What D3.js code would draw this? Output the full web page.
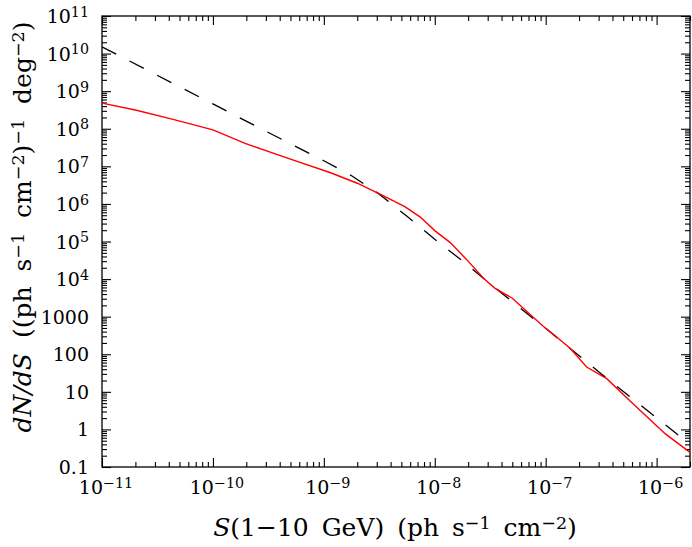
<!DOCTYPE html>
<html>
<head>
<meta charset="utf-8">
<script src="https://cdn.jsdelivr.net/npm/d3@7"></script>
<style>
  body { margin: 0; background: #fff; }
  svg { display: block; }
  text { font-family: "DejaVu Serif", serif; fill: #000; }
</style>
</head>
<body>
<svg width="692" height="547"></svg>
<script>
// dashed model curve, S in ph s^-1 cm^-2, dN/dS per (ph s^-1 cm^-2) deg^-2
const dashS = [1e-11, 1e-10, 3.16e-10, 1e-9, 1.78e-9, 3.16e-9, 5.62e-9, 1e-8, 1.78e-8, 3.16e-8, 1e-7, 3.16e-7, 1e-6, 2e-6];
const dashN = [1.51e10, 4.57e8, 7.94e7, 1.41e7, 5.62e6, 1.82e6, 4.68e5, 1.15e5, 3.02e4, 7.41e3, 490, 30.2, 2.04, 0.40];

// red curve
const redS = [1e-11, 2.0e-11, 4.37e-11, 1e-10, 1.95e-10, 5.0e-10, 1.15e-9, 2.0e-9, 3.31e-9, 5.37e-9,
  7.41e-9, 1e-8, 1.38e-8, 1.95e-8, 2.75e-8, 3.47e-8, 5.01e-8, 6.76e-8, 9.55e-8, 1.26e-7,
  1.66e-7, 2.34e-7, 3.55e-7, 6.03e-7, 1.20e-6, 2e-6];
const redN = [4.79e8, 3.16e8, 1.78e8, 9.33e7, 4.07e7, 1.55e7, 6.76e6, 3.55e6, 1.74e6, 8.51e5,
  4.47e5, 1.95e5, 9.33e4, 3.24e4, 1.05e4, 5.75e3, 3.09e3, 1.38e3, 550, 282,
  145, 45.7, 22.4, 5.01, 0.76, 0.245];

const xTickLabels = ["10^−11", "10^−10", "10^−9", "10^−8", "10^−7", "10^−6"];
const yTickLabels = ["0.1", "1", "10", "100", "1000", "10^4", "10^5", "10^6", "10^7", "10^8", "10^9", "10^10", "10^11"];

const svg = d3.select("svg");
const m = {left: 102, right: 690, top: 16, bottom: 467};

const x = d3.scaleLog().domain([1e-11, 2e-6]).range([m.left, m.right]);
const y = d3.scaleLog().domain([0.1, 1e11]).range([m.bottom, m.top]);

const xMajor = d3.range(-11, -5).map(k => Math.pow(10, k));
const yMajor = d3.range(-1, 12).map(k => Math.pow(10, k));
const minorOf = (majors, dom) => {
  const out = [];
  majors.forEach(v0 => { for (let i = 2; i <= 9; i++) { const v = v0 * i; if (v <= dom[1]) out.push(v); } });
  return out;
};
const xMinor = minorOf(xMajor, x.domain());
const yMinor = minorOf(yMajor, y.domain()).filter(v => v < 1e11);

const tickGroup = (axis, tx, ty) => {
  const g = svg.append("g").attr("transform", `translate(${tx},${ty})`).call(axis);
  g.select(".domain").remove();
  g.selectAll("line").attr("stroke", "#000").attr("stroke-width", 1.1);
  g.selectAll("text").remove();
  return g;
};

[[xMajor, 9], [xMinor, 5]].forEach(([vals, len]) => {
  tickGroup(d3.axisBottom(x).tickValues(vals).tickSize(-len).tickFormat(""), 0, m.bottom);
  tickGroup(d3.axisTop(x).tickValues(vals).tickSize(-len).tickFormat(""), 0, m.top);
});
[[yMajor, 9], [yMinor, 5]].forEach(([vals, len]) => {
  tickGroup(d3.axisLeft(y).tickValues(vals).tickSize(-len).tickFormat(""), m.left, 0);
  tickGroup(d3.axisRight(y).tickValues(vals).tickSize(-len).tickFormat(""), m.right, 0);
});

svg.append("rect")
  .attr("x", m.left).attr("y", m.top)
  .attr("width", m.right - m.left).attr("height", m.bottom - m.top)
  .attr("fill", "none").attr("stroke", "#000").attr("stroke-width", 1.3);

// text with "^" superscripts
const putLabel = (sel, str) => {
  const parts = str.split("^");
  sel.append("tspan").text(parts[0]);
  if (parts[1]) sel.append("tspan").attr("dy", "-0.45em").attr("font-size", "0.75em").text(parts[1]);
};

svg.append("g").selectAll("text")
  .data(xMajor)
  .enter().append("text")
    .attr("x", d => x(d) + 4)
    .attr("y", m.bottom + 27)
    .attr("text-anchor", "middle")
    .attr("font-size", 19)
    .each(function(d, i) { putLabel(d3.select(this), xTickLabels[i]); });

svg.append("g").selectAll("text")
  .data(yMajor)
  .enter().append("text")
    .attr("x", 89)
    .attr("y", d => y(d) + 7)
    .attr("text-anchor", "end")
    .attr("font-size", 19)
    .each(function(d, i) { putLabel(d3.select(this), yTickLabels[i]); });

const line = d3.line().x(d => x(d[0])).y(d => y(d[1]));

svg.append("path")
  .datum(dashS.map((s, i) => [s, dashN[i]]))
  .attr("d", line)
  .attr("fill", "none")
  .attr("stroke", "#000")
  .attr("stroke-width", 1.3)
  .attr("stroke-dasharray", "16,15");

svg.append("path")
  .datum(redS.map((s, i) => [s, redN[i]]))
  .attr("d", line)
  .attr("fill", "none")
  .attr("stroke", "#ff0000")
  .attr("stroke-width", 1.4);

// axis titles built from pieces: [text, superscript?, italic?]
const richText = (sel, pieces) => {
  let raised = false;
  pieces.forEach(([t, sup, it]) => {
    const ts = sel.append("tspan").text(t);
    if (it) ts.attr("font-style", "italic");
    if (sup && !raised) { ts.attr("dy", "-0.42em").attr("font-size", "0.7em"); raised = true; }
    else if (sup) ts.attr("font-size", "0.7em");
    else if (raised) { ts.attr("dy", "0.294em"); raised = false; }
  });
};

const xTitle = svg.append("text")
  .attr("x", 395).attr("y", 536)
  .attr("text-anchor", "middle")
  .attr("font-size", 25)
  .attr("word-spacing", 5);
richText(xTitle, [["S", false, true], ["(1−10 GeV) (ph s"], ["−1", true], [" cm"], ["−2", true], [")"]]);

const yTitle = svg.append("text")
  .attr("transform", "translate(31,227) rotate(-90)")
  .attr("text-anchor", "middle")
  .attr("font-size", 25)
  .attr("word-spacing", 7);
richText(yTitle, [["dN/dS", false, true], [" ((ph s"], ["−1", true], [" cm"], ["−2", true], [")"], ["−1", true], [" deg"], ["−2", true], [")"]]);
</script>
</body>
</html>
